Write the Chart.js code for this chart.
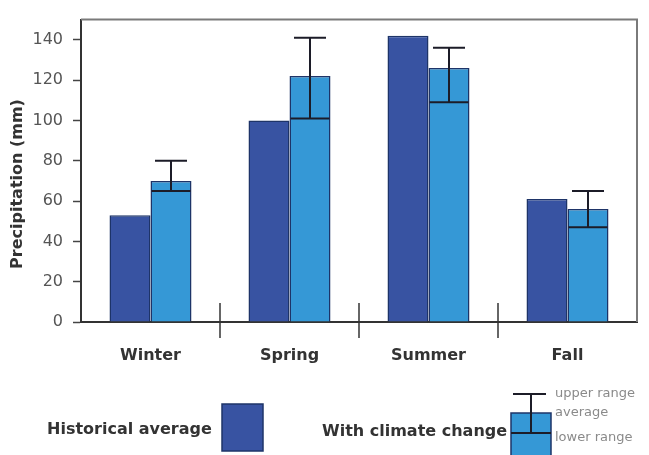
<!DOCTYPE html>
<html>
<head>
<meta charset="utf-8">
<script src="https://cdn.jsdelivr.net/npm/chart.js@4/dist/chart.umd.min.js"></script>
<style>
  html, body { margin: 0; padding: 0; background: #ffffff; }
  #wrap { width: 649px; height: 455px; }
</style>
</head>
<body>
<div id="wrap"><canvas id="chart" width="649" height="455"></canvas></div>
<script>
// Seasonal precipitation (mm)
const seasons = ['Winter', 'Spring', 'Summer', 'Fall'];
const historicalAverage = [53, 100, 142, 61];
const climateChangeAverage = [70, 122, 126, 56];
const climateChangeUpper = [80, 141, 136, 65];
const climateChangeLower = [65, 101, 109, 47];
const yTickValues = [0, 20, 40, 60, 80, 100, 120, 140];

const DARK_BLUE = '#3853a2';
const LIGHT_BLUE = '#3598d6';
const BAR_EDGE = '#1e3468';
const RANGE_INK = '#1c1c28';

Chart.defaults.font.family = "'DejaVu Sans', sans-serif";

// Outline the top and right of the plot area
const frame = {
  id: 'frame',
  beforeDatasetsDraw(chart) {
    const { ctx, chartArea: a } = chart;
    ctx.save();
    ctx.strokeStyle = '#7a7a7a';
    ctx.lineWidth = 2;
    ctx.beginPath();
    ctx.moveTo(a.left, a.top);
    ctx.lineTo(a.right, a.top);
    ctx.lineTo(a.right, a.bottom);
    ctx.stroke();
    ctx.restore();
  }
};

// Short dividers between the season groups, crossing the x axis
const dividers = {
  id: 'dividers',
  afterDraw(chart) {
    const { ctx, chartArea: a } = chart;
    const x = chart.scales.x;
    ctx.save();
    ctx.strokeStyle = '#333';
    ctx.lineWidth = 1.5;
    for (let i = 1; i < seasons.length; i++) {
      const px = Math.round((x.getPixelForTick(i - 1) + x.getPixelForTick(i)) / 2);
      ctx.beginPath();
      ctx.moveTo(px, a.bottom - 19);
      ctx.lineTo(px, a.bottom + 16);
      ctx.stroke();
    }
    ctx.restore();
  }
};

// Range bars on the climate-change series
const rangeBars = {
  id: 'rangeBars',
  afterDatasetsDraw(chart) {
    const { ctx } = chart;
    const y = chart.scales.y;
    const bars = chart.getDatasetMeta(1).data;
    ctx.save();
    ctx.strokeStyle = RANGE_INK;
    ctx.lineWidth = 2;
    bars.forEach((bar, i) => {
      const yu = y.getPixelForValue(climateChangeUpper[i]);
      const yl = y.getPixelForValue(climateChangeLower[i]);
      const half = bar.width / 2;
      ctx.beginPath();
      ctx.moveTo(bar.x, yu);
      ctx.lineTo(bar.x, yl);
      ctx.moveTo(bar.x - 16, yu);
      ctx.lineTo(bar.x + 16, yu);
      ctx.moveTo(bar.x - half + 1, yl);
      ctx.lineTo(bar.x + half - 1, yl);
      ctx.stroke();
    });
    ctx.restore();
  }
};

// Y axis title and the legend below the chart
const annotations = {
  id: 'annotations',
  afterDraw(chart) {
    const { ctx } = chart;
    ctx.save();
    ctx.fillStyle = '#333';
    ctx.font = "bold 16px 'DejaVu Sans'";
    ctx.textBaseline = 'middle';

    ctx.save();
    ctx.translate(18, 184);
    ctx.rotate(-Math.PI / 2);
    ctx.textAlign = 'center';
    ctx.fillText('Precipitation (mm)', 0, 0);
    ctx.restore();

    ctx.textAlign = 'left';
    ctx.fillText('Historical average', 47, 430);
    ctx.fillStyle = DARK_BLUE;
    ctx.fillRect(222, 404, 41, 47);
    ctx.strokeStyle = BAR_EDGE;
    ctx.lineWidth = 1.5;
    ctx.strokeRect(222, 404, 41, 47);

    ctx.fillStyle = '#333';
    ctx.fillText('With climate change', 322, 432);
    ctx.fillStyle = LIGHT_BLUE;
    ctx.fillRect(511, 413, 40, 46);
    ctx.strokeStyle = BAR_EDGE;
    ctx.strokeRect(511, 413, 40, 46);
    ctx.strokeStyle = RANGE_INK;
    ctx.lineWidth = 2;
    ctx.beginPath();
    ctx.moveTo(513, 394); ctx.lineTo(546, 394);
    ctx.moveTo(531, 394); ctx.lineTo(531, 433);
    ctx.moveTo(511, 433); ctx.lineTo(551, 433);
    ctx.stroke();

    ctx.fillStyle = '#8a8a8a';
    ctx.font = "13px 'DejaVu Sans'";
    ctx.fillText('upper range', 555, 394);
    ctx.fillText('average', 555, 413);
    ctx.fillText('lower range', 555, 438);
    ctx.restore();
  }
};

new Chart(document.getElementById('chart'), {
  type: 'bar',
  data: {
    labels: seasons,
    datasets: [
      {
        label: 'Historical average',
        data: historicalAverage,
        backgroundColor: DARK_BLUE,
        borderColor: BAR_EDGE,
        borderWidth: 1.5,
        categoryPercentage: 0.59,
        barPercentage: 1.0
      },
      {
        label: 'With climate change',
        data: climateChangeAverage,
        backgroundColor: LIGHT_BLUE,
        borderColor: BAR_EDGE,
        borderWidth: 1.5,
        categoryPercentage: 0.59,
        barPercentage: 1.0
      }
    ]
  },
  options: {
    responsive: false,
    devicePixelRatio: 1,
    animation: false,
    events: [],
    layout: { padding: { left: 0, top: 11, right: 12, bottom: 0 } },
    plugins: {
      legend: { display: false },
      tooltip: { enabled: false }
    },
    scales: {
      x: {
        grid: { display: false, drawTicks: false },
        border: { display: true, color: '#333', width: 2 },
        ticks: {
          padding: 24,
          color: '#333',
          font: { size: 16, weight: 'bold' }
        },
        afterFit(scale) { scale.height = 133; }
      },
      y: {
        min: 0,
        max: 150,
        grid: {
          drawOnChartArea: false,
          drawTicks: true,
          tickLength: 8,
          tickColor: '#444',
          tickWidth: 1.5
        },
        border: { display: true, color: '#333', width: 2 },
        ticks: {
          stepSize: 20,
          padding: 10,
          color: '#555',
          font: { size: 16 }
        },
        afterBuildTicks(scale) {
          scale.ticks = yTickValues.map(v => ({ value: v }));
        },
        afterFit(scale) { scale.width = 81; }
      }
    }
  },
  plugins: [frame, rangeBars, dividers, annotations]
});
</script>
</body>
</html>
